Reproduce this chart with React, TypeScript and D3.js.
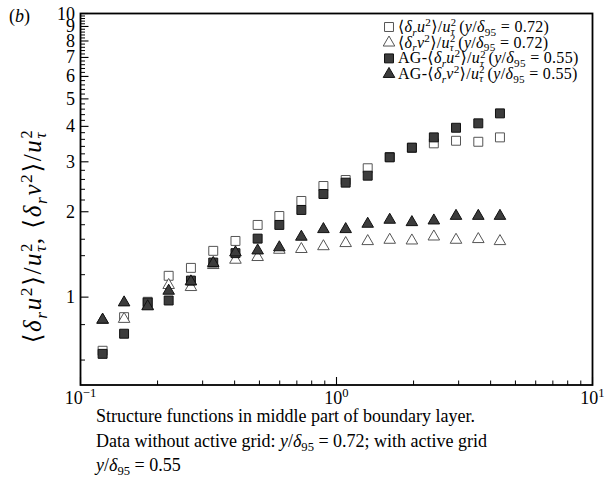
import React from "react";
import * as d3 from "d3";

// ---------- data ----------
const rValues = [0.122, 0.148, 0.183, 0.221, 0.27, 0.33, 0.403, 0.492, 0.598, 0.729, 0.889, 1.086, 1.324, 1.614, 1.97, 2.4, 2.93, 3.58, 4.35];
const du2_072 = [0.647, 0.85, 0.963, 1.189, 1.268, 1.456, 1.578, 1.797, 1.932, 2.183, 2.465, 2.588, 2.847, 3.12, 3.36, 3.485, 3.559, 3.53, 3.658];
const dv2_072 = [0.83, 0.837, 0.93, 1.102, 1.084, 1.296, 1.353, 1.383, 1.467, 1.476, 1.51, 1.549, 1.574, 1.591, 1.582, 1.634, 1.591, 1.6, 1.574];
const agDu2_055 = [0.631, 0.743, 0.957, 0.973, 1.144, 1.324, 1.429, 1.608, 1.797, 2.029, 2.31, 2.533, 2.68, 3.11, 3.365, 3.658, 3.955, 4.1, 4.445];
const agDv2_055 = [0.832, 0.957, 0.927, 1.052, 1.135, 1.318, 1.436, 1.459, 1.497, 1.631, 1.735, 1.735, 1.812, 1.872, 1.836, 1.861, 1.932, 1.932, 1.932];
const yTickLabels = [1, 2, 3, 4, 5, 6, 7, 8, 9, 10];
const yMinorTicks = [0.6, 0.8, 1.2, 1.4, 1.6, 1.8, 2.2, 2.4, 2.6, 2.8, 3.2, 3.4, 3.6, 3.8, 4.2, 4.4, 4.6, 4.8, 5.2, 5.4, 5.6, 5.8, 6.2, 6.4, 6.6, 6.8, 7.2, 7.4, 7.6, 7.8, 8.2, 8.4, 8.6, 8.8, 9.2, 9.4, 9.6, 9.8];
const xMajorTicks = [0.1, 1, 10];
const xTickExponents = ["\u22121", "0", "1"];

type Part = { t?: string; i?: boolean; sup?: boolean; sub?: boolean; stack?: [string, string] };

const FONT = "'Liberation Serif', 'Times New Roman', 'DejaVu Serif', serif";

function Rich({ x, y, parts, fs, anchor = "start", transform, spacing = 0 }: { x: number; y: number; parts: Part[]; fs: number; anchor?: string; transform?: string; spacing?: number }) {
  let off = 0;
  const out: React.ReactNode[] = [];
  parts.forEach((p, k) => {
    if (p.stack) {
      const up = -0.36 * fs;
      const down = 0.2 * fs;
      const small = 0.66 * fs;
      out.push(
        <tspan key={k + "a"} dy={up - off} fontSize={small} fontStyle="normal">
          {p.stack[0]}
        </tspan>
      );
      out.push(
        <tspan key={k + "b"} dx={-0.5 * small - spacing} dy={down - up} fontSize={small} fontStyle="italic">
          {p.stack[1]}
        </tspan>
      );
      off = down;
      return;
    }
    let target = 0;
    let size = fs;
    if (p.sup) {
      target = -0.38 * fs;
      size = 0.7 * fs;
    } else if (p.sub) {
      target = 0.22 * fs;
      size = 0.7 * fs;
    }
    out.push(
      <tspan key={k} dy={target - off} fontSize={size} fontStyle={p.i ? "italic" : "normal"}>
        {p.t}
      </tspan>
    );
    off = target;
  });
  return (
    <text x={x} y={y} fontSize={fs} textAnchor={anchor} fontFamily={FONT} fill="#000" transform={transform} letterSpacing={spacing}>
      {out}
    </text>
  );
}

const W = 607;
const H = 492;

export default function App() {
  const x = d3.scaleLog().domain([0.1, 10]).range([80.5, 592.5]);
  const y = d3.scaleLog().domain([0.49, 10]).range([385, 13.5]);
  const [x0, x1] = x.range();
  const [yb, yt] = y.range();

  const sq = d3.symbol().type(d3.symbolSquare).size(80)()!;
  const tri = d3.symbol().type(d3.symbolTriangle).size(58)()!;

  const series = [
    { data: du2_072, path: sq, fill: "#fff", stroke: "#555" },
    { data: dv2_072, path: tri, fill: "#fff", stroke: "#555" },
    { data: agDu2_055, path: sq, fill: "#3c3c3c", stroke: "#111" },
    { data: agDv2_055, path: tri, fill: "#3c3c3c", stroke: "#111" },
  ];

  const xMinor: number[] = [];
  [0.1, 1].forEach((b) => {
    for (let m = 2; m <= 9; m++) xMinor.push(b * m);
  });

  const yLab = (ch: string): Part[] => [
    { t: "\u27e8" },
    { t: "\u03b4", i: true },
    { t: "r", i: true, sub: true },
    { t: ch, i: true },
    { t: "2", sup: true },
    { t: "\u27e9/" },
    { t: "u", i: true },
    { stack: ["2", "\u03c4"] },
  ];

  const legFs = 16;
  const legendRows: { parts: Part[]; s: number }[] = [
    { s: 0, parts: [...yLab("u"), { t: " (" }, { t: "y", i: true }, { t: "/" }, { t: "\u03b4", i: true }, { t: "95", sub: true }, { t: " = 0.72)" }] },
    { s: 1, parts: [...yLab("v"), { t: " (" }, { t: "y", i: true }, { t: "/" }, { t: "\u03b4", i: true }, { t: "95", sub: true }, { t: " = 0.72)" }] },
    { s: 2, parts: [{ t: "AG-" }, ...yLab("u"), { t: " (" }, { t: "y", i: true }, { t: "/" }, { t: "\u03b4", i: true }, { t: "95", sub: true }, { t: " = 0.55)" }] },
    { s: 3, parts: [{ t: "AG-" }, ...yLab("v"), { t: " (" }, { t: "y", i: true }, { t: "/" }, { t: "\u03b4", i: true }, { t: "95", sub: true }, { t: " = 0.55)" }] },
  ];

  return (
    <svg width={W} height={H} style={{ position: "absolute", left: 0, top: 0, background: "#fff" }}>
      <rect width={W} height={H} fill="#fff" />
      {/* ticks */}
      {yTickLabels.map((v) => (
        <g key={"yt" + v}>
          <line x1={x0} x2={x0 + 8} y1={y(v)} y2={y(v)} stroke="#000" strokeWidth={1.1} />
          <text x={75} y={y(v) + 6} fontSize={18} textAnchor="end" fontFamily={FONT}>
            {v}
          </text>
        </g>
      ))}
      {yMinorTicks.map((v) => (
        <line key={"ym" + v} x1={x0} x2={x0 + 4.5} y1={y(v)} y2={y(v)} stroke="#000" strokeWidth={1} />
      ))}
      {xMajorTicks.map((v, k) => (
        <g key={"xt" + v}>
          <line x1={x(v)} x2={x(v)} y1={yb} y2={yb - 8} stroke="#000" strokeWidth={1.1} />
          <Rich x={x(v)} y={404} fs={18} anchor="middle" parts={[{ t: "10" }, { t: xTickExponents[k], sup: true }]} />
        </g>
      ))}
      {xMinor.map((v) => (
        <line key={"xm" + v} x1={x(v)} x2={x(v)} y1={yb} y2={yb - 4.5} stroke="#000" strokeWidth={1} />
      ))}
      {/* frame */}
      <rect x={x0} y={yt} width={x1 - x0} height={yb - yt} fill="none" stroke="#000" strokeWidth={1.8} />

      {/* data */}
      {series.map((s, si) => (
        <g key={"s" + si}>
          {s.data.map((v, k) => (
            <path
              key={k}
              d={s.path}
              transform={`translate(${x(rValues[k])},${y(v)})`}
              fill={s.fill}
              stroke={s.stroke}
              strokeWidth={1}
            />
          ))}
        </g>
      ))}

      {/* legend */}
      {legendRows.map((r, k) => {
        const cy = 27 + k * 15.7;
        const s = series[r.s];
        return (
          <g key={"lg" + k}>
            <path d={s.path} transform={`translate(389,${cy})`} fill={s.fill} stroke={s.stroke} strokeWidth={1} />
            <Rich x={398} y={cy + 5} fs={legFs} parts={r.parts} spacing={0.3} />
          </g>
        );
      })}

      {/* axis title */}
      <Rich
        x={0}
        y={0}
        fs={25}
        spacing={1.6}
        anchor="middle"
        transform="translate(41,236) rotate(-90)"
        parts={[...yLab("u"), { t: ", " }, ...yLab("v")]}
      />

      {/* panel label */}
      <Rich x={9} y={22} fs={18} parts={[{ t: "(" }, { t: "b", i: true }, { t: ")" }]} />

      {/* caption */}
      <Rich x={96} y={422} fs={18} parts={[{ t: "Structure functions in middle part of boundary layer." }]} />
      <Rich
        x={96}
        y={447}
        fs={18}
        parts={[
          { t: "Data without active grid: " },
          { t: "y", i: true },
          { t: "/" },
          { t: "\u03b4", i: true },
          { t: "95", sub: true },
          { t: " = 0.72; with active grid" },
        ]}
      />
      <Rich
        x={96}
        y={471}
        fs={18}
        parts={[{ t: "y", i: true }, { t: "/" }, { t: "\u03b4", i: true }, { t: "95", sub: true }, { t: " = 0.55" }]}
      />
    </svg>
  );
}
